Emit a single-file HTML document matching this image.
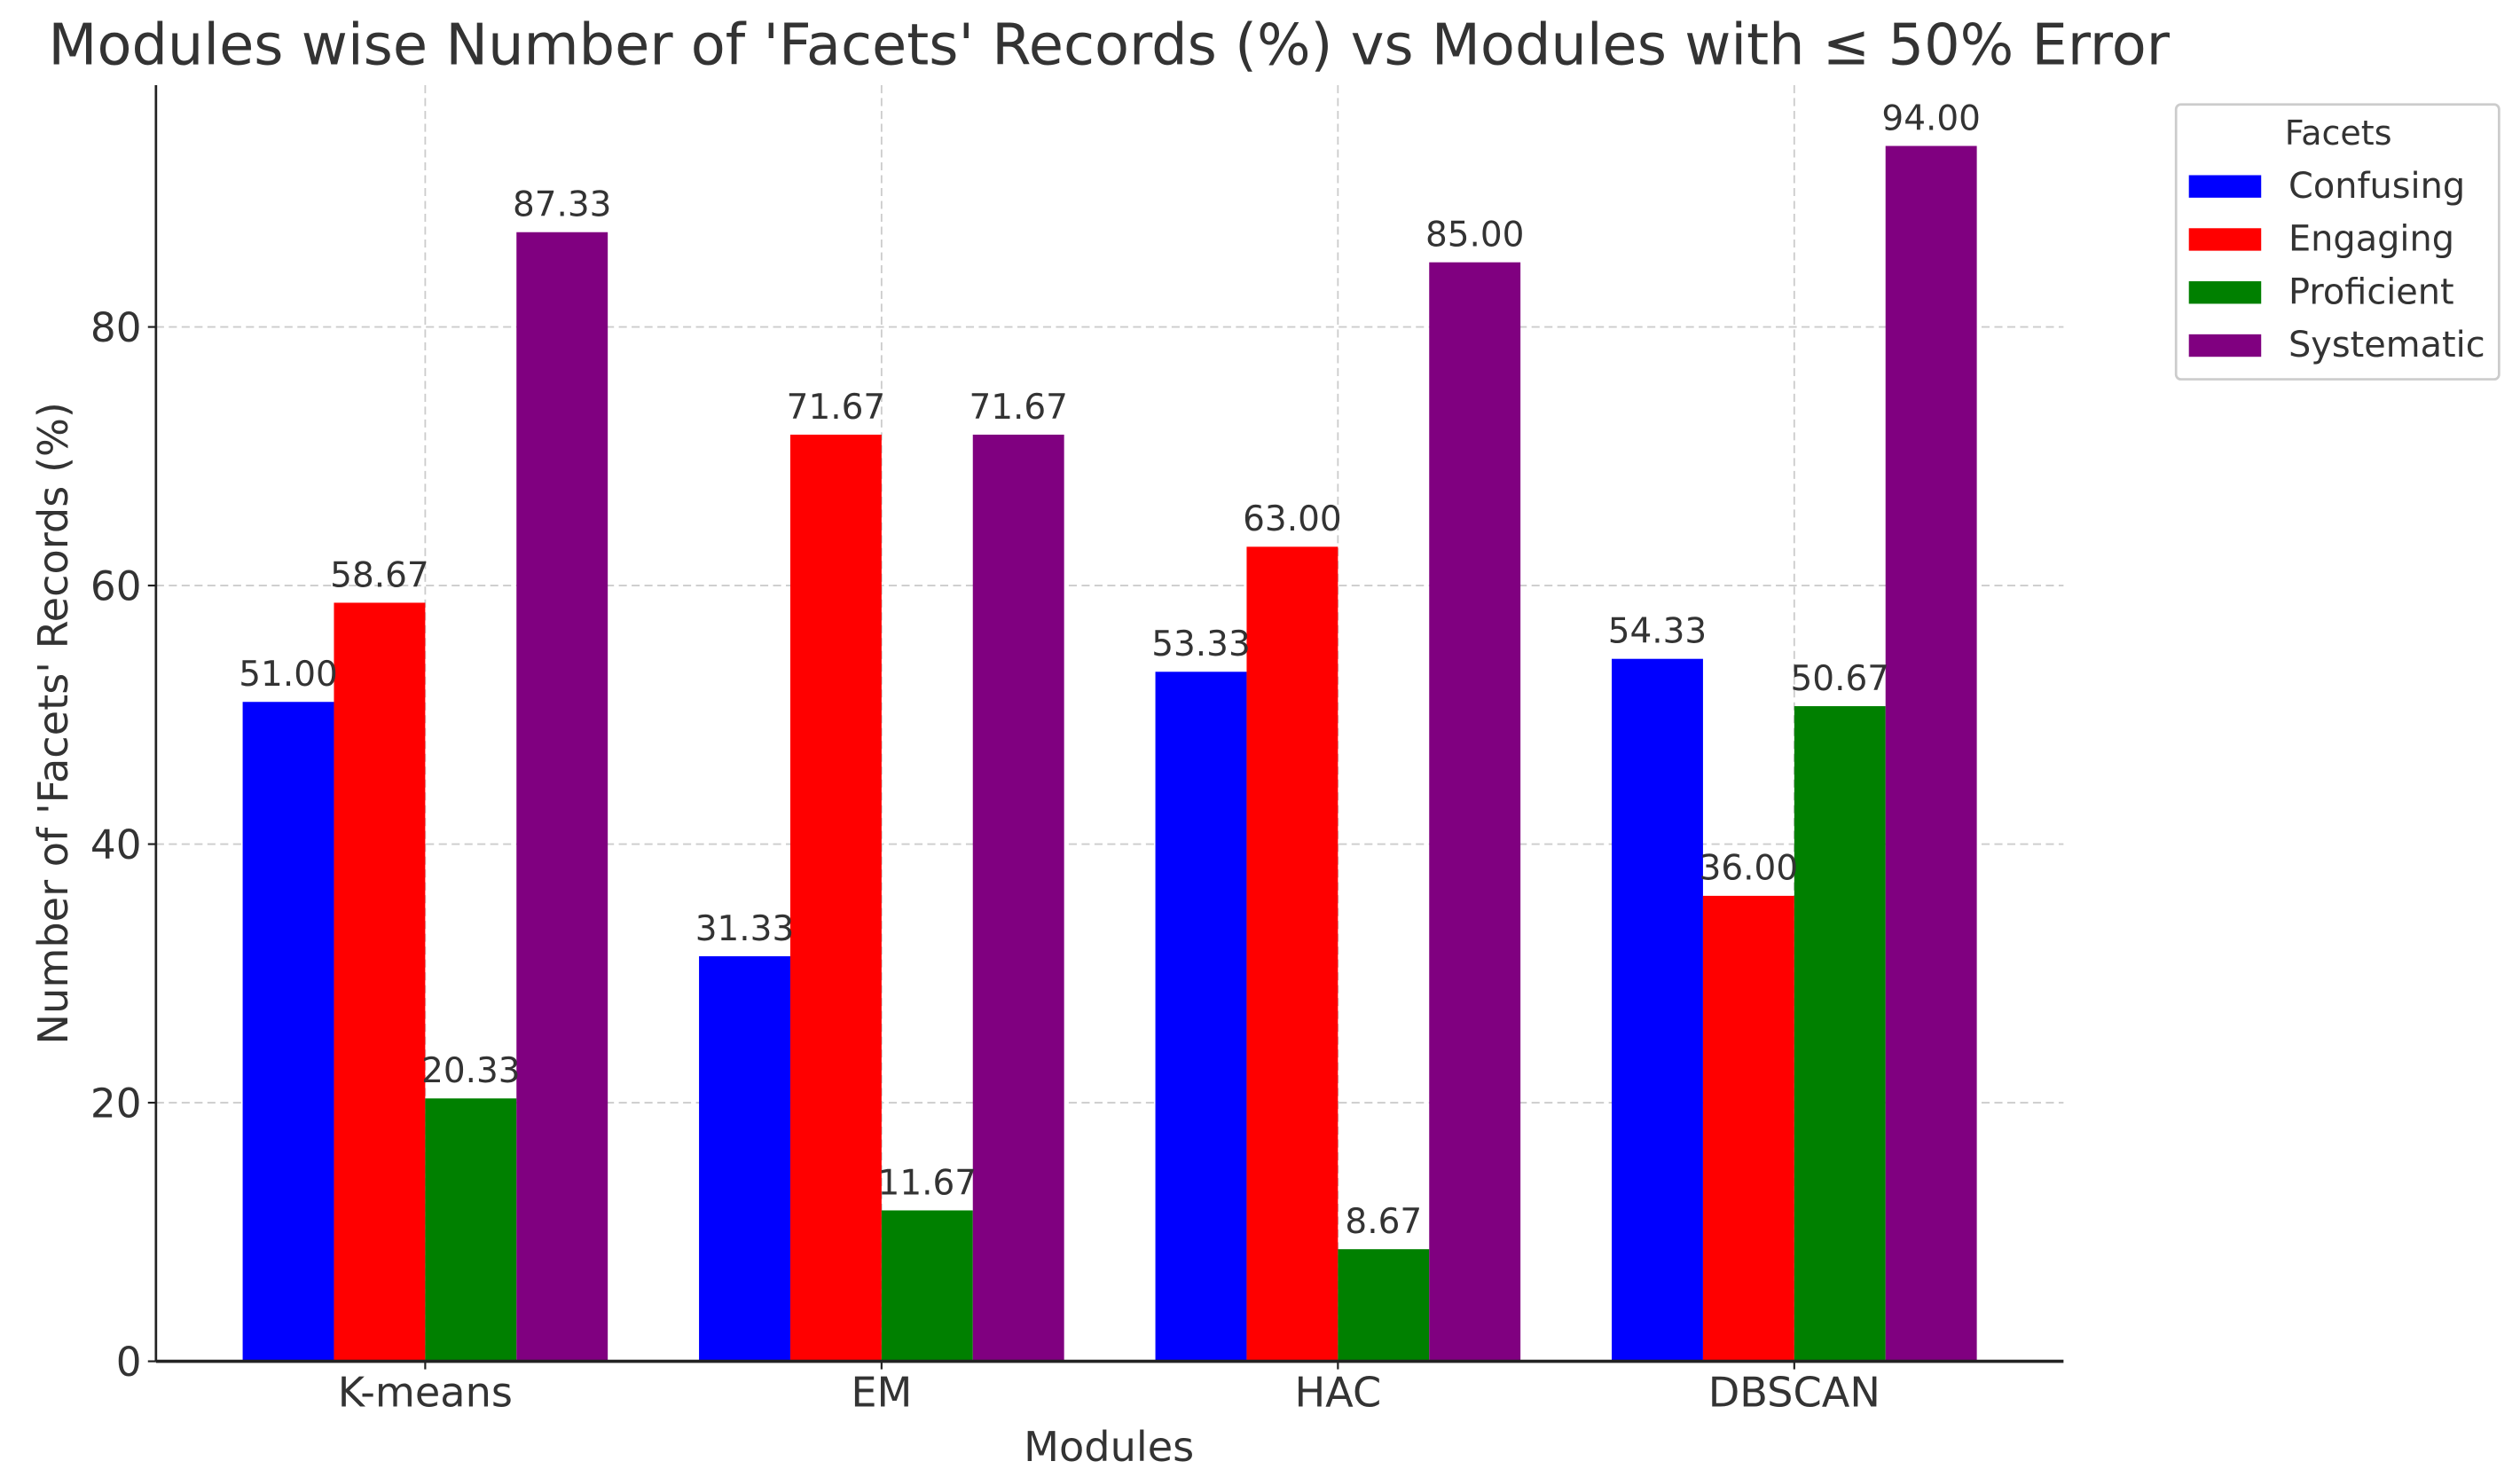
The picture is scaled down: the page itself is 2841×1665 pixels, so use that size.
<!DOCTYPE html>
<html><head><meta charset="utf-8"><style>
html,body{margin:0;padding:0;background:#fff;}
svg{display:block;}
text{font-family:"DejaVu Sans","Liberation Sans",sans-serif;fill:#333;}
</style></head><body>
<svg id="chart" width="2841" height="1665" viewBox="0 0 1568 919" xmlns="http://www.w3.org/2000/svg">
<text x="30" y="40" font-size="35.2">Modules wise Number of 'Facets' Records (%) vs Modules with ≤ 50% Error</text>
<g id="grid"></g><g id="bars"></g><g id="labels"></g><g id="axes"></g>
<text x="690" y="909" font-size="25.5" text-anchor="middle">Modules</text>
<text transform="translate(42,450) rotate(-90)" font-size="25.5" text-anchor="middle">Number of 'Facets' Records (%)</text>
<g>
<rect x="1354" y="65" width="201" height="171" rx="3" fill="#fff" stroke="#ccc" stroke-width="1.5"/>
<text x="1455" y="90" font-size="21" text-anchor="middle">Facets</text>
<g id="legend-entries"></g>
</g>
</svg>
<script>
const categories = ["K-means","EM","HAC","DBSCAN"];
const seriesNames = ["Confusing","Engaging","Proficient","Systematic"];
const confusing = [51.00,31.33,53.33,54.33];
const engaging = [58.67,71.67,63.00,36.00];
const proficient = [20.33,11.67,8.67,50.67];
const systematic = [87.33,71.67,85.00,94.00];
const yTicks = [0,20,40,60,80];
const colors = ["#0000ff","#ff0000","#008000","#800080"];
const series = [confusing,engaging,proficient,systematic];
const NS="http://www.w3.org/2000/svg";
const L=97,R=1284,B=847,T=53;
const yMax = Math.max(...series.flat())*1.05;
const xMin=-0.4-0.19, xMax=categories.length-1+0.4+0.19;
const xs=v=>L+(v-xMin)/(xMax-xMin)*(R-L);
const ys=v=>B-v/yMax*(B-T);
const bw=0.2;
function mk(tag,attrs,parent){const e=document.createElementNS(NS,tag);for(const k in attrs)e.setAttribute(k,attrs[k]);parent.appendChild(e);return e;}
const grid=document.getElementById('grid'),bars=document.getElementById('bars'),labels=document.getElementById('labels'),axes=document.getElementById('axes');
yTicks.forEach(t=>{
  if(t>0){const g=mk('line',{x1:L,x2:R,y1:ys(t),y2:ys(t),stroke:'#ccc','stroke-dasharray':'5,3','stroke-width':1},grid);
  
  }
  const tk=mk('line',{x1:L-5,x2:L,y1:ys(t),y2:ys(t),stroke:'#222','stroke-width':1.2},axes);
  
  
  const tx=mk('text',{x:L-9,y:ys(t)+9,'font-size':25,'text-anchor':'end'},axes);tx.textContent=t;
  
  
});
categories.forEach((c,i)=>{
  const g=mk('line',{x1:xs(i),x2:xs(i),y1:T,y2:B,stroke:'#ccc','stroke-dasharray':'5,3','stroke-width':1},grid);
  
  
  const tk=mk('line',{x1:xs(i),x2:xs(i),y1:B,y2:B+5,stroke:'#222','stroke-width':1.2},axes);
  
  
  const tx=mk('text',{x:xs(i),y:B+28,'font-size':25.5,'text-anchor':'middle'},axes);tx.textContent=c;
  
  
  series.forEach((s,j)=>{
    const x0=i+(j-2)*bw;
    const r=mk('rect',{x:xs(x0),y:ys(s[i]),width:xs(x0+bw)-xs(x0),height:B-ys(s[i]),fill:colors[j]},bars);
    
    
    const v=mk('text',{x:xs(x0+bw/2),y:ys(s[i])-10,'font-size':21.5,'text-anchor':'middle'},labels);v.textContent=s[i].toFixed(2);
    
    
  });
});
const la=mk('line',{x1:L,x2:L,y1:T,y2:B,stroke:'#222','stroke-width':1.5},axes);


const ba=mk('line',{x1:L,x2:R,y1:B,y2:B,stroke:'#222','stroke-width':2},axes);


const le=document.getElementById('legend-entries');
seriesNames.forEach((n,j)=>{
  const cy=116+j*33;
  const p=mk('rect',{x:1362,y:cy-7,width:45,height:14,fill:colors[j]},le);
  
  
  const t=mk('text',{x:1424,y:cy+7,'font-size':22},le);t.textContent=n;
  
  
});
</script>
</body></html>
